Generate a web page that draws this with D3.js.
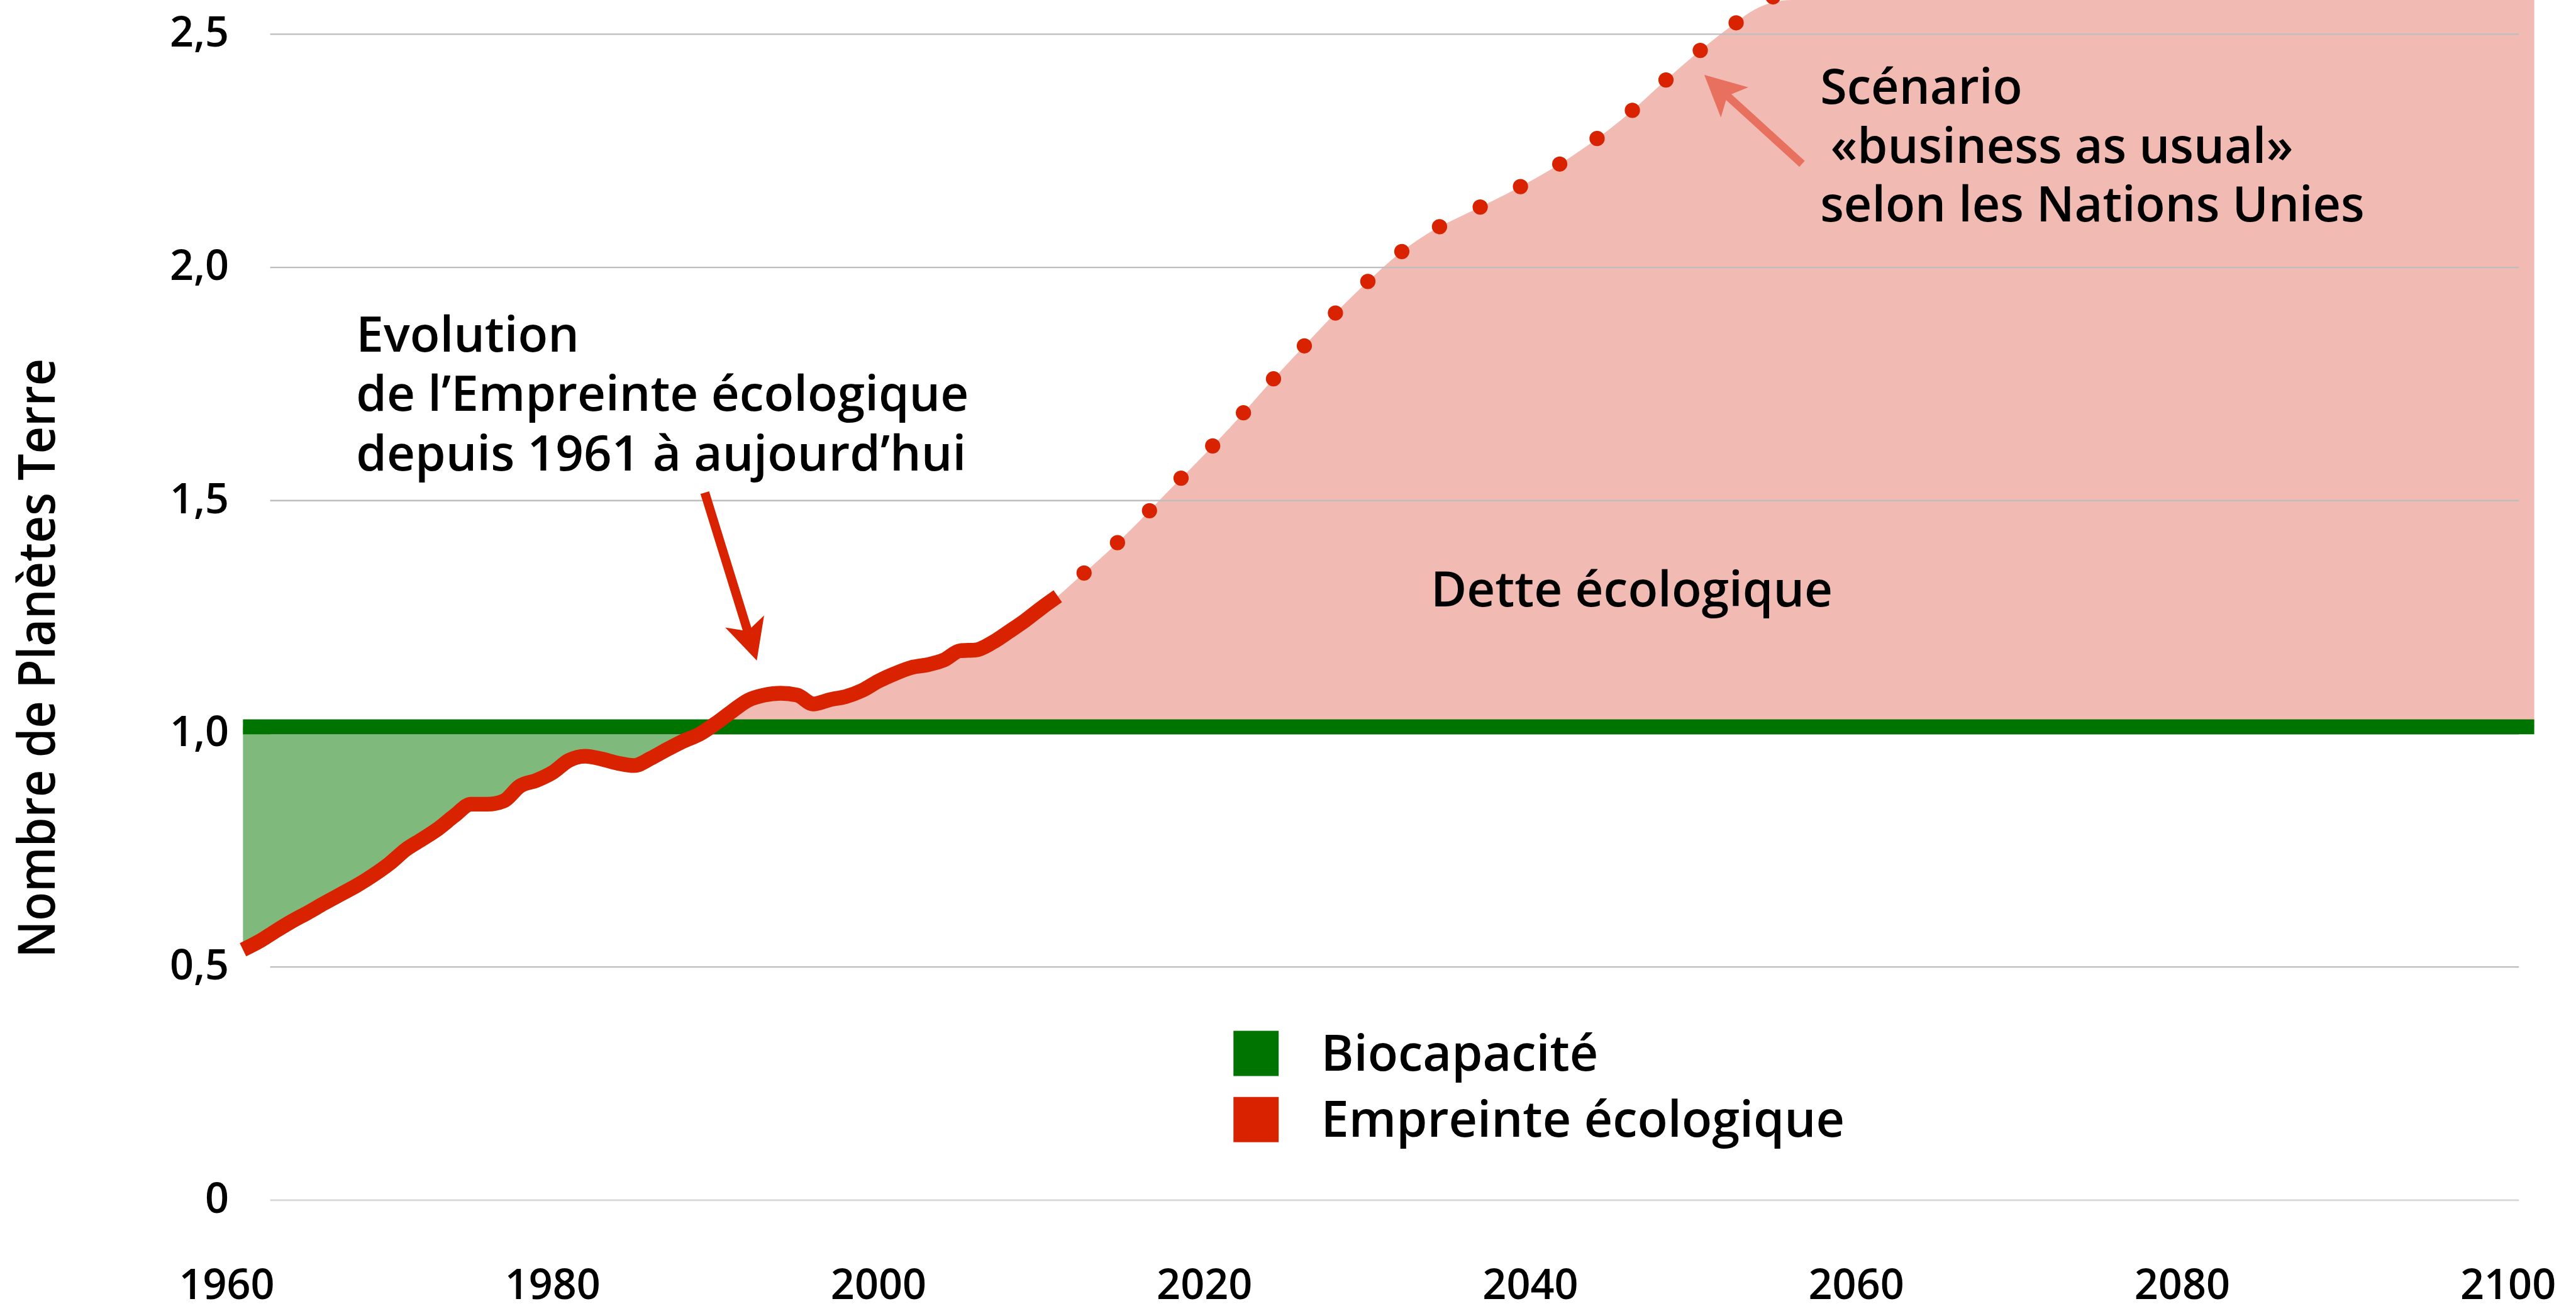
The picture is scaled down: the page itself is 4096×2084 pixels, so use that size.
<!DOCTYPE html>
<html><head><meta charset="utf-8">
<script src="https://cdn.jsdelivr.net/npm/d3@7"></script>
<style>
html,body{margin:0;padding:0;background:#fff;overflow:hidden}
svg{display:block}
text{font-family:"Open Sans",sans-serif;font-weight:600;fill:#000}
</style></head><body>
<svg id="c" width="4096" height="2084"></svg>
<script>
// ---------- data ----------
const histYears = [1961,1962,1963,1964,1965,1966,1967,1968,1969,1970,
  1971,1972,1973,1974,1975,1976,1977,1978,1979,1980,
  1981,1982,1983,1984,1985,1986,1987,1988,1989,1990,
  1991,1992,1993,1994,1995,1996,1997,1998,1999,2000,
  2001,2002,2003,2004,2005,2006,2007,2008,2009,2010,2011];
const histValues = [0.537,0.555,0.577,0.598,0.617,0.637,0.656,0.675,0.697,0.722,
  0.752,0.774,0.797,0.825,0.849,0.849,0.856,0.888,0.900,0.917,
  0.943,0.952,0.946,0.937,0.932,0.947,0.966,0.984,0.999,1.022,
  1.048,1.072,1.083,1.087,1.083,1.064,1.073,1.080,1.093,1.113,
  1.129,1.142,1.148,1.158,1.178,1.180,1.196,1.219,1.243,1.270,1.295];
const projYears = [2011,2012,2014,2016,2018,2020,2022,2024,2026,2028,2030,
  2032,2034,2036,2038,2040,2042,2044,2046,2048,2050,2052,2054,2056];
const projValues = [1.295,1.326,1.388,1.456,1.528,1.599,1.673,1.752,1.827,1.901,1.969,
  2.031,2.079,2.114,2.148,2.185,2.226,2.274,2.329,2.392,2.453,2.509,2.557,2.610];
const biocapacity = 1.015;
const areaEndYear = 2101.6;
const xTicks = [1960,1980,2000,2020,2040,2060,2080,2100];
const xTickLabels = ["1960","1980","2000","2020","2040","2060","2080","2100"];
const yTicks = [0,0.5,1.0,1.5,2.0,2.5];
const yTickLabels = ["0","0,5","1,0","1,5","2,0","2,5"];
const legendLabels = ["Biocapacité","Empreinte écologique"];
const yTitle = "Nombre de Planètes Terre";
const noteHistory = ["Evolution","de l\u2019Empreinte écologique","depuis 1961 à aujourd\u2019hui"];
const noteScenario = ["Scénario","«business as usual»","selon les Nations Unies"];
const noteDebt = "Dette écologique";
// arrows anchored in data space: [year, value]
const arrowHistFrom = [1989.34, 1.517], arrowHistTo = [1992.53, 1.157];
const arrowScenFrom = [2056.67, 2.222], arrowScenTo = [2050.67, 2.413];

// ---------- style ----------
const C = {
  green: "#007400", greenArea: "#7fb97c", pink: "#f1bbb3",
  red: "#d92300", salmon: "#e8705f", grid: "#bdbdbd", zero: "#d6d6d6"
};
const K = 4096 / 4557;

const svg = d3.select("#c");
const g = svg.append("g").attr("transform", `scale(${K})`);

const x = d3.scaleLinear().domain([1960, 2100]).range([401, 4437]);
const y = d3.scaleLinear().domain([0, 2.5]).range([2122.6, 60.5]);

const hist = histYears.map((yr, i) => ({yr, v: histValues[i]}));
const proj = projYears.map((yr, i) => ({yr, v: projValues[i]}));
const all = hist.concat(proj.slice(1));

// green area (footprint below biocapacity)
const greenArea = d3.area()
  .x(d => x(d.yr))
  .y0(y(biocapacity))
  .y1(d => y(Math.min(d.v, biocapacity)))
  .curve(d3.curveMonotoneX);
g.append("path").attr("d", greenArea(hist.filter(d => d.yr <= 1991)))
  .attr("fill", C.greenArea);

// pink area (ecological debt)
const frameTop = y.invert(0);
const pinkData = all.concat([{yr: areaEndYear, v: frameTop}]);
const pinkArea = d3.area()
  .x(d => x(d.yr))
  .y0(y(biocapacity))
  .y1(d => Math.max(0, y(Math.max(d.v, biocapacity))))
  .curve(d3.curveMonotoneX);
g.append("path").attr("d", pinkArea(pinkData.filter(d => d.yr >= 1988)))
  .attr("fill", C.pink);

// gridlines
g.append("g").selectAll("line").data(yTicks).join("line")
  .attr("x1", 478).attr("x2", 4456)
  .attr("y1", d => y(d)).attr("y2", d => y(d))
  .attr("stroke", d => d === 0 ? C.zero : C.grid)
  .attr("stroke-width", d => d === 0 ? 3.2 : 2.6);

// biocapacity line
g.append("line")
  .attr("x1", x(1961)).attr("x2", x(areaEndYear))
  .attr("y1", y(biocapacity)).attr("y2", y(biocapacity))
  .attr("stroke", C.green).attr("stroke-width", 26.5);

// footprint history line
const line = d3.line().x(d => x(d.yr)).y(d => y(d.v)).curve(d3.curveMonotoneX);
g.append("path").attr("d", line(hist))
  .attr("fill", "none").attr("stroke", C.red).attr("stroke-width", 26)
  .attr("stroke-linejoin", "round").attr("stroke-linecap", "butt");

// projection dotted line
g.append("path").attr("d", line(proj))
  .attr("fill", "none").attr("stroke", C.red).attr("stroke-width", 27)
  .attr("stroke-linecap", "round")
  .attr("stroke-dasharray", "0 80").attr("stroke-dashoffset", 18);

// arrows
function arrow(from, to, color, hw) {
  const x0 = x(from[0]), y0 = y(from[1]), x1 = x(to[0]), y1 = y(to[1]);
  const L = Math.hypot(x1 - x0, y1 - y0);
  const ang = Math.atan2(y1 - y0, x1 - x0) * 180 / Math.PI;
  const pts = [[-L, -hw], [-58.5, -hw], [-72.5, -36], [0, 0], [-72.5, 36], [-58.5, hw], [-L, hw]];
  g.append("path")
    .attr("d", "M" + pts.map(p => p.join(",")).join("L") + "Z")
    .attr("transform", `translate(${x1},${y1}) rotate(${ang})`)
    .attr("fill", color);
}
arrow(arrowHistFrom, arrowHistTo, C.red, 8);
arrow(arrowScenFrom, arrowScenTo, C.salmon, 7);

// y tick labels
g.append("g").selectAll("text").data(yTicks).join("text")
  .attr("x", 405).attr("y", d => y(d)).attr("dy", "0.3em")
  .attr("text-anchor", "end").attr("font-size", 74)
  .text((d, i) => yTickLabels[i]);

// x tick labels
g.append("g").selectAll("text").data(xTicks).join("text")
  .attr("x", d => x(d)).attr("y", 2297)
  .attr("text-anchor", "middle").attr("font-size", 74)
  .text((d, i) => xTickLabels[i]);

// y title
g.append("text")
  .attr("transform", "translate(97,1164) rotate(-90)")
  .attr("text-anchor", "middle").attr("font-size", 90)
  .attr("textLength", 1060).attr("lengthAdjust", "spacingAndGlyphs")
  .text(yTitle);

// annotations
const histNote = g.append("text").attr("font-size", 87);
noteHistory.forEach((t, i) => histNote.append("tspan").attr("x", 630).attr("y", 622 + i * 105).text(t));
const scenNote = g.append("text").attr("font-size", 86);
noteScenario.forEach((t, i) => scenNote.append("tspan").attr("x", i === 1 ? 3238 : 3220).attr("y", 184 + i * 104).text(t));
g.append("text").attr("x", 2531).attr("y", 1072).attr("font-size", 87).text(noteDebt);

// legend
const legColors = [C.green, C.red];
const leg = g.append("g").selectAll("g").data(legendLabels).join("g")
  .attr("transform", (d, i) => `translate(2182,${1823 + i * 117})`);
leg.append("rect").attr("width", 80).attr("height", 80).attr("fill", (d, i) => legColors[i]);
leg.append("text").attr("x", 155).attr("y", 70).attr("font-size", 88).text(d => d);
</script>
</body></html>
